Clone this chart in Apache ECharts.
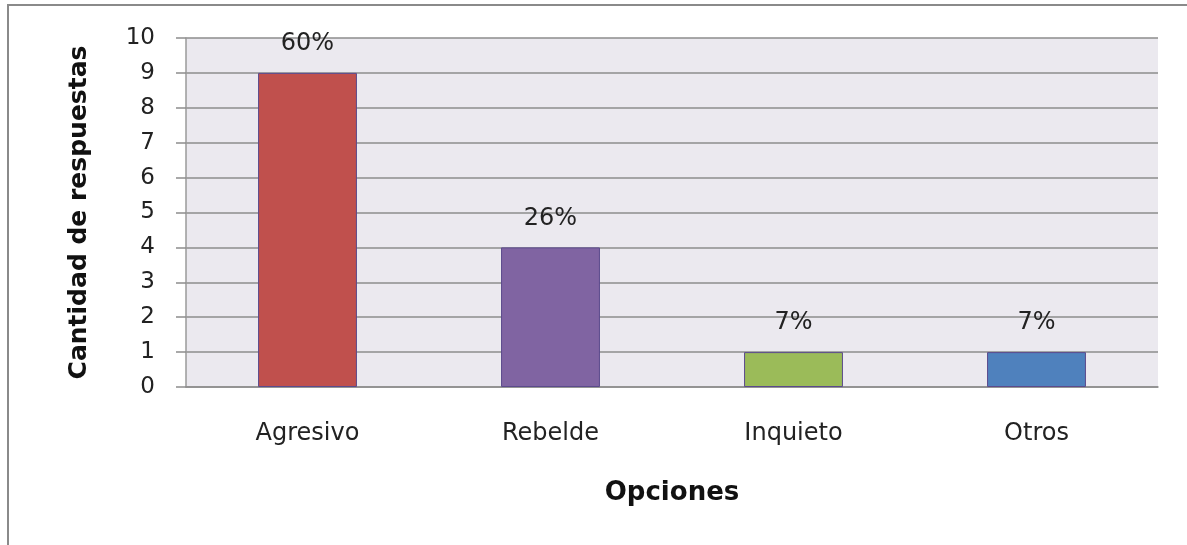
<!DOCTYPE html>
<html>
<head>
<meta charset="utf-8">
<script src="https://cdn.jsdelivr.net/npm/echarts@6/dist/echarts.min.js"></script>
<style>
  html, body { margin: 0; padding: 0; background: #ffffff; }
  #frame { position: absolute; left: 7px; top: 4px; width: 1180px; height: 541px;
           border-top: 2px solid #8a8a8a; border-left: 2px solid #8a8a8a; box-sizing: border-box; }
  #chart { position: absolute; left: 0; top: 0; width: 1187px; height: 545px; }
</style>
</head>
<body>
<div id="frame"></div>
<div id="chart"></div>
<script>
const categories = ['Agresivo', 'Rebelde', 'Inquieto', 'Otros'];
const values = [9, 4, 1, 1];
const percentLabels = ['60%', '26%', '7%', '7%'];
const barColors = ['#c0504d', '#8064a2', '#9bbb59', '#4f81bd'];
const yTicks = { min: 0, max: 10, interval: 1 };

const FONT = 'DejaVu Sans';
const chart = echarts.init(document.getElementById('chart'), null, { renderer: 'canvas' });
chart.setOption({
  animation: false,
  backgroundColor: 'transparent',
  grid: {
    left: 186, right: 29, top: 38, bottom: 158,
    show: true, backgroundColor: '#ebe9ef', borderWidth: 0
  },
  xAxis: {
    type: 'category',
    data: categories,
    name: 'Opciones',
    nameLocation: 'middle',
    nameGap: 93,
    nameTextStyle: { fontFamily: FONT, fontSize: 26, fontWeight: 'bold', color: '#111' },
    axisLine: { show: true, lineStyle: { color: '#8d8d8d', width: 1.5 } },
    axisTick: { show: false },
    axisLabel: { fontFamily: FONT, fontSize: 24, color: '#222', margin: 35 }
  },
  yAxis: {
    type: 'value',
    min: yTicks.min, max: yTicks.max, interval: yTicks.interval,
    name: 'Cantidad de respuestas',
    nameLocation: 'middle',
    nameGap: 94,
    nameTextStyle: { fontFamily: FONT, fontSize: 25, fontWeight: 'bold', color: '#111' },
    axisLine: { show: true, lineStyle: { color: '#9a9a9a', width: 1.5 } },
    axisTick: { show: true, inside: false, length: 10, lineStyle: { color: '#8d8d8d', width: 1.5 } },
    axisLabel: { fontFamily: FONT, fontSize: 23, color: '#222', margin: 31 },
    splitLine: { show: true, lineStyle: { color: '#8d8d8d', width: 1.5 } }
  },
  series: [{
    type: 'bar',
    barWidth: '40.7%',
    data: values.map((v, i) => ({
      value: v,
      itemStyle: { color: barColors[i], borderColor: '#5b4a8c', borderWidth: 1 }
    })),
    label: {
      show: true,
      position: 'top',
      distance: 17,
      fontFamily: FONT, fontSize: 24, color: '#222',
      formatter: p => percentLabels[p.dataIndex]
    }
  }]
});
</script>
</body>
</html>
